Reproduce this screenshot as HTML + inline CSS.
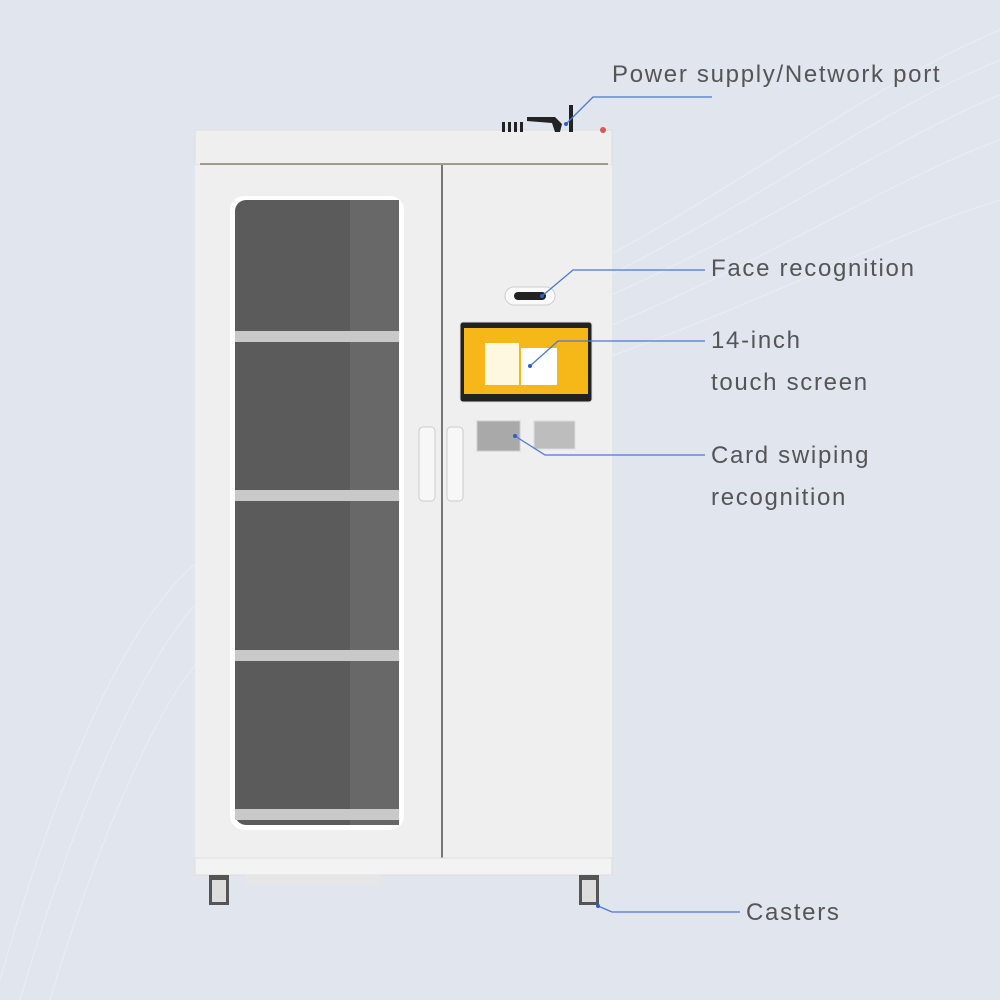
<!DOCTYPE html>
<html><head><style>
body{margin:0;width:1000px;height:1000px;overflow:hidden;background:#e1e5ee;font-family:"Liberation Sans",sans-serif;position:relative}
.a{position:absolute}
.t{position:absolute;color:#555;font-size:24px;letter-spacing:1.7px;line-height:42px}
</style></head><body>
<svg class="a" style="left:0;top:0" width="1000" height="1000">
<g fill="none" stroke="#eef1f6" stroke-width="1" opacity="0.7">
<path d="M600 260 C750 180 880 80 1000 30"/><path d="M600 280 C760 200 880 110 1000 60"/><path d="M600 300 C760 230 890 140 1000 95"/><path d="M600 330 C770 260 890 180 1000 140"/><path d="M600 360 C770 300 900 230 1000 200"/>
<path d="M0 980 C80 700 150 600 200 560"/><path d="M20 1000 C90 760 160 640 200 600"/><path d="M50 1000 C110 800 170 690 200 660"/>
</g>
<rect x="195" y="130" width="417" height="35" fill="#efefef" stroke="#ddd"/>
<line x1="200" y1="164" x2="608" y2="164" stroke="#8a8470" stroke-width="1.5"/>
<rect x="195" y="165" width="417" height="695" fill="#efefef"/>
<line x1="442" y1="165" x2="442" y2="858" stroke="#777" stroke-width="2"/>
<rect x="195" y="858" width="417" height="17" fill="#f3f3f3" stroke="#ddd"/>
<rect x="245" y="875" width="135" height="10" fill="#e6e6e6"/>
<rect x="230" y="196" width="174" height="634" rx="14" fill="#fff"/>
<rect x="235" y="200" width="164" height="625" rx="11" fill="#5b5b5b"/>
<rect x="350" y="200" width="49" height="625" fill="#686868"/>
<g fill="#c9c9c9"><rect x="235" y="331" width="164" height="11"/><rect x="235" y="490" width="164" height="11"/><rect x="235" y="650" width="164" height="11"/><rect x="235" y="809" width="164" height="11"/></g>
<rect x="419" y="427" width="16" height="74" rx="4" fill="#f7f7f7" stroke="#ccc"/>
<rect x="447" y="427" width="16" height="74" rx="4" fill="#f7f7f7" stroke="#ccc"/>
<g fill="#222"><rect x="502" y="122" width="3" height="10"/><rect x="508" y="122" width="3" height="10"/><rect x="514" y="122" width="3" height="10"/><rect x="520" y="122" width="3" height="10"/>
<path d="M527 117 L555 117 L562 124 L560 132 L555 132 L552 123 L527 121Z"/><rect x="569" y="105" width="4" height="27"/></g>
<circle cx="603" cy="130" r="3" fill="#d55"/>
<rect x="505" y="287" width="50" height="18" rx="9" fill="#fafafa" stroke="#ccc"/>
<rect x="514" y="292" width="32" height="8" rx="4" fill="#222"/>
<rect x="460" y="322" width="132" height="80" rx="3" fill="#222" stroke="#ddd"/>
<rect x="464" y="328" width="124" height="66" fill="#f5b818"/>
<rect x="485" y="343" width="34" height="42" fill="#fff8e0"/>
<rect x="521" y="348" width="36" height="37" fill="#fff"/>
<rect x="477" y="421" width="43" height="30" fill="#a9a9a9" stroke="#ccc"/>
<rect x="534" y="421" width="41" height="28" fill="#bdbdbd" stroke="#ddd"/>
<rect x="209" y="875" width="20" height="30" fill="#555"/><rect x="212" y="880" width="14" height="22" fill="#ddd"/>
<rect x="579" y="875" width="20" height="30" fill="#555"/><rect x="582" y="880" width="14" height="22" fill="#ddd"/>
<g stroke="#4a78d8" stroke-width="1.3" fill="none">
<polyline points="566,124 593,97 712,97"/>
<polyline points="542,296 573,270 705,270"/>
<polyline points="530,366 558,341 705,341"/>
<polyline points="515,436 545,455 705,455"/>
<polyline points="598,906 612,912 740,912"/>
</g>
<g fill="#2a5fd0"><circle cx="566" cy="124" r="2"/><circle cx="542" cy="296" r="2"/><circle cx="530" cy="366" r="2"/><circle cx="515" cy="436" r="2"/><circle cx="598" cy="906" r="2"/></g>
</svg>
<div class="t" style="left:612px;top:54px">Power supply/Network port</div>
<div class="t" style="left:711px;top:248px">Face recognition</div>
<div class="t" style="left:711px;top:320px">14-inch<br>touch screen</div>
<div class="t" style="left:711px;top:435px">Card swiping<br>recognition</div>
<div class="t" style="left:746px;top:892px">Casters</div>
</body></html>
